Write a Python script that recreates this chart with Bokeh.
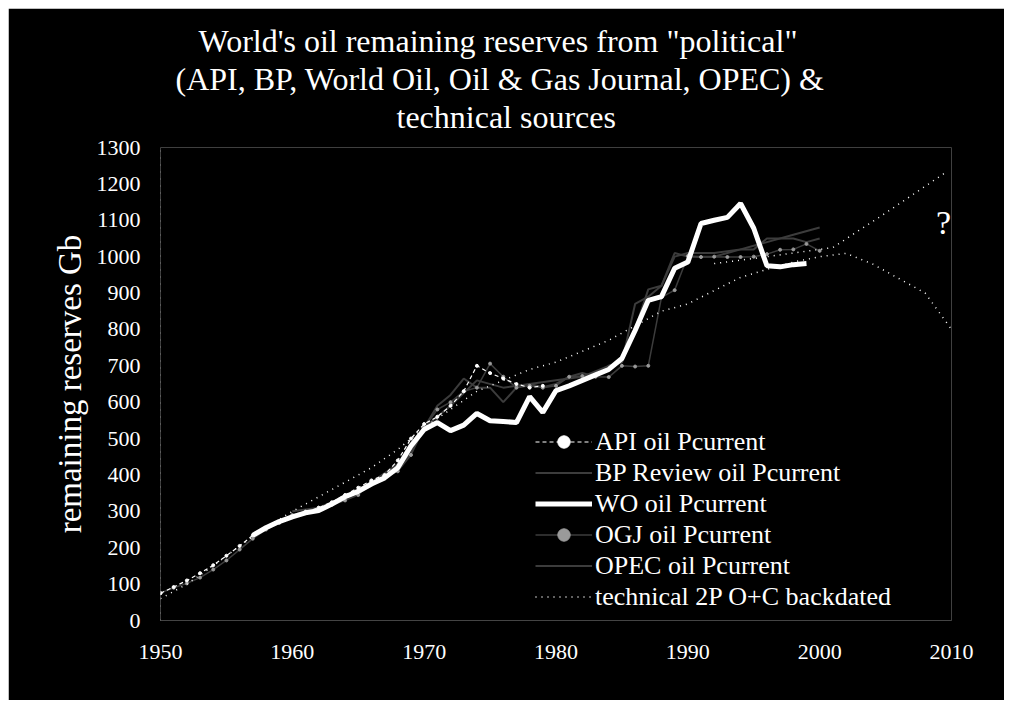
from bokeh.plotting import figure
from bokeh.models import Title, Legend, LegendItem, Range1d, FixedTicker, Spacer
from bokeh.layouts import column, row
from bokeh.embed import file_html
from bokeh.resources import INLINE
from bokeh.core.properties import value

FONT = "Liberation Serif"

# ---------------- data (Gb) ----------------
x_ticks = [1950, 1960, 1970, 1980, 1990, 2000, 2010]
y_ticks = [0, 100, 200, 300, 400, 500, 600, 700, 800, 900, 1000, 1100, 1200, 1300]

api_years = list(range(1950, 1980))
api_vals = [75, 92, 110, 130, 152, 178, 205, 234, 255, 270, 285, 298, 310, 325, 345,
            365, 385, 400, 440, 500, 540, 560, 590, 630, 700, 680, 665, 650, 640, 645]

bp_years = list(range(1965, 2001))
bp_vals = [350, 370, 395, 420, 460, 530, 590, 620, 665, 640, 640, 600, 640, 650, 641,
           650, 670, 680, 670, 700, 710, 870, 890, 920, 1010, 1000, 1000, 1000, 1010,
           1020, 1020, 1050, 1050, 1050, 1040, 1050]

wo_years = list(range(1957, 2000))
wo_vals = [234, 255, 272, 285, 296, 302, 320, 340, 355, 375, 392, 420, 480, 525, 544,
           522, 537, 569, 549, 547, 544, 615, 572, 632, 645, 660, 675, 690, 720, 797,
           880, 890, 968, 985, 1091, 1100, 1108, 1146, 1078, 975, 972, 978, 981]

ogj_years = list(range(1950, 2001))
ogj_vals = [76, 90, 102, 118, 140, 165, 195, 225, 250, 268, 290, 300, 310, 318, 330,
            345, 380, 395, 410, 455, 530, 580, 600, 630, 640, 706, 670, 640, 645, 640,
            645, 670, 672, 670, 669, 700, 698, 700, 888, 908, 1002, 999, 1000, 999, 999,
            1000, 1007, 1019, 1020, 1035, 1016]

opec_years = [1960, 1962, 1964, 1966, 1968, 1970, 1972, 1974, 1976, 1978, 1980, 1982,
              1984, 1985, 1986, 1987, 1988, 1989, 1990, 1992, 1994, 1996, 1998, 2000]
opec_vals = [300, 310, 340, 380, 430, 530, 590, 660, 640, 650, 660, 670, 700, 710, 800,
             910, 920, 1000, 1010, 1010, 1020, 1040, 1060, 1080]

tech_years = [1950, 1952, 1954, 1956, 1958, 1960, 1962, 1964, 1966, 1968, 1970, 1972,
              1974, 1976, 1978, 1980, 1982, 1984, 1986, 1988, 1990, 1992, 1994, 1996,
              1998, 2000, 2002, 2004, 2006, 2008, 2010]
tech_vals = [60, 100, 150, 205, 255, 300, 340, 380, 420, 470, 530, 580, 630, 660, 690,
             710, 740, 770, 810, 850, 870, 907, 943, 965, 985, 1000, 1009, 980, 940, 900, 800]

proj_years = [1992, 1995, 2001, 2005, 2009.5]
proj_vals = [981, 995, 1025, 1120, 1230]

note_year = [2009.4]
note_val = [1094]
note_text = ["?"]

labels = ["API oil Pcurrent", "BP Review oil Pcurrent", "WO oil Pcurrent",
          "OGJ oil Pcurrent", "OPEC oil Pcurrent", "technical 2P O+C backdated"]

title_lines = ["World's oil remaining reserves from \"political\"",
               "(API, BP, World Oil, Oil & Gas Journal, OPEC) &",
               "technical sources"]
title_offsets = [38, 15, 236]

# ---------------- figure ----------------
p = figure(width=996, height=692, output_backend="svg", toolbar_location=None,
           x_range=Range1d(1950, 2010), y_range=Range1d(0, 1300),
           background_fill_color="black", border_fill_color="black",
           min_border_left=152, min_border_right=53, min_border_top=139,
           min_border_bottom=80, title=None)
p.outline_line_color = None
p.grid.visible = False

# spacer title between frame and the text lines
p.add_layout(Title(text=" ", text_font_size="10px", standoff=0, text_color="black"), "above")
for t, off in reversed(list(zip(title_lines, title_offsets))):
    p.add_layout(Title(text=t, align="left", text_font=FONT, text_font_size="32px",
                       text_font_style="normal", text_color="white",
                       text_line_height=0.92, standoff=0, offset=off), "above")

p.xaxis.ticker = FixedTicker(ticks=x_ticks)
p.yaxis.ticker = FixedTicker(ticks=y_ticks)
for ax in (p.xaxis, p.yaxis):
    ax.major_label_text_font = FONT
    ax.major_label_text_font_size = "22px"
    ax.major_label_text_color = "white"
    ax.major_tick_line_color = None
    ax.minor_tick_line_color = None
p.yaxis.major_label_standoff = 14
p.xaxis.major_label_standoff = 18
p.xaxis.axis_line_color = "#444444"
p.yaxis.axis_line_color = "#777777"
p.yaxis.axis_line_dash = "1 6"
p.yaxis.axis_label = "remaining reserves Gb"
p.yaxis.axis_label_text_font = FONT
p.yaxis.axis_label_text_font_size = "33px"
p.yaxis.axis_label_text_font_style = "normal"
p.yaxis.axis_label_text_color = "white"
p.yaxis.axis_label_standoff = 6

dim = "#3c3c3c"
r_bp = p.line(bp_years, bp_vals, color=dim, line_width=2)
r_opec = p.line(opec_years, opec_vals, color=dim, line_width=2)
r_ogj = p.line(ogj_years, ogj_vals, color=dim, line_width=1.5)
r_ogj_m = p.scatter(ogj_years, ogj_vals, size=3, color="#9a9a9a")
r_tech = p.line(tech_years, tech_vals, color="white", line_width=1.5, line_dash="1 5")
r_proj = p.line(proj_years, proj_vals, color="white", line_width=1.5, line_dash="1 5")
r_api = p.line(api_years, api_vals, color="white", line_width=1.2, line_dash="4 3")
r_api_m = p.scatter(api_years, api_vals, size=3, color="white")
r_wo = p.line(wo_years, wo_vals, color="white", line_width=5)

p.text(x=note_year, y=note_val, text=note_text, text_font=value(FONT),
       text_font_size="34px", text_color="white", text_align="center",
       text_baseline="middle")

legend = Legend(items=[
    LegendItem(label=labels[0], renderers=[r_api, r_api_m]),
    LegendItem(label=labels[1], renderers=[r_bp]),
    LegendItem(label=labels[2], renderers=[r_wo]),
    LegendItem(label=labels[3], renderers=[r_ogj, r_ogj_m]),
    LegendItem(label=labels[4], renderers=[r_opec]),
    LegendItem(label=labels[5], renderers=[r_tech]),
], location=(375, 8))
legend.background_fill_alpha = 0
legend.border_line_color = None
legend.padding = 0
legend.margin = 0
legend.spacing = 0
legend.glyph_width = 57
legend.glyph_height = 31
legend.label_height = 31
legend.label_standoff = 3
legend.label_text_font = FONT
legend.label_text_font_size = "26px"
legend.label_text_color = "white"
p.add_layout(legend)

page = column(Spacer(height=8), row(Spacer(width=8), p))
open("out.html", "w").write(file_html(page, INLINE))
